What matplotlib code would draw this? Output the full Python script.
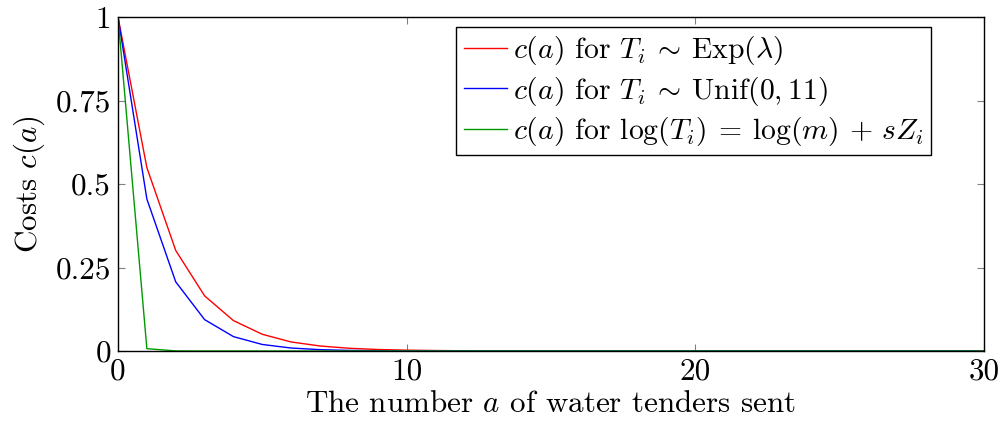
import matplotlib
matplotlib.use("Agg")
import matplotlib.pyplot as plt
import numpy as np

plt.rcParams["font.family"] = "serif"
plt.rcParams["font.serif"] = ["cmr10"]
plt.rcParams["mathtext.fontset"] = "cm"
plt.rcParams["axes.unicode_minus"] = False

# number of water tenders sent
a = np.arange(0, 31)

# costs for exponential travel times
cost_exp = [1.0, 0.549, 0.301, 0.165, 0.091, 0.050, 0.027, 0.015, 0.0082, 0.0045,
            0.0025, 0.0014, 0.00075, 0.0004, 0.0002, 0.0001, 0.00006, 0.00003, 0.00002, 0.00001,
            0, 0, 0, 0, 0, 0, 0, 0, 0, 0, 0]
# costs for uniform travel times
cost_unif = [1.0, 0.455, 0.207, 0.094, 0.043, 0.0195, 0.0089, 0.004, 0.0018, 0.0008,
             0.0004, 0.0002, 0.0001, 0.00005, 0.00002, 0, 0, 0, 0, 0,
             0, 0, 0, 0, 0, 0, 0, 0, 0, 0, 0]
# costs for log-normal travel times
cost_lognorm = [1.0, 0.007, 0.0002, 0, 0, 0, 0, 0, 0, 0,
                0, 0, 0, 0, 0, 0, 0, 0, 0, 0,
                0, 0, 0, 0, 0, 0, 0, 0, 0, 0, 0]

labels = [r"$c(a)$ for $T_i \:\sim\: \mathrm{Exp}(\lambda)$",
          r"$c(a)$ for $T_i \:\sim\: \mathrm{Unif}(0,11)$",
          r"$c(a)$ for $\log(T_i) \:=\: \log(m) \,+\, sZ_i$"]

xticks = [0, 10, 20, 30]
yticks = [0, 0.25, 0.5, 0.75, 1]
ytick_labels = ["0", "0.25", "0.5", "0.75", "1"]

fs = 22.4

fig = plt.figure(figsize=(10.02, 4.29), dpi=100)
ax = fig.add_axes([118 / 1002, 1 - 351 / 429, 866 / 1002, 334 / 429])

ax.plot(a, cost_exp, color="red", lw=1.0, label=labels[0])
ax.plot(a, cost_unif, color="blue", lw=1.0, label=labels[1])
ax.plot(a, cost_lognorm, color=(0, 0.6, 0), lw=1.0, label=labels[2])

ax.set_xlim(0, 30)
ax.set_ylim(0, 1)
ax.set_xticks(xticks)
ax.set_xticklabels([str(t) for t in xticks])
ax.set_yticks(yticks)
ax.set_yticklabels(ytick_labels)
ax.tick_params(direction="in", length=5, width=0.8, color="0.5",
               top=True, right=True, labelsize=fs, pad=5)
for s in ax.spines.values():
    s.set_linewidth(1.0)
    s.set_color("black")

ax.set_xlabel("The number $a$ of water tenders sent", fontsize=fs, labelpad=4)
ax.set_ylabel("Costs $c(a)$", fontsize=fs, labelpad=6)

leg = ax.legend(loc="upper right", bbox_to_anchor=(0.939, 0.971), borderaxespad=0,
                fontsize=21.4, fancybox=False, edgecolor="black", framealpha=1,
                handlelength=1.45, handletextpad=0.2, labelspacing=0.25,
                borderpad=0.25)
leg.get_frame().set_linewidth(1.0)

fig.savefig("out.png", dpi=100)
